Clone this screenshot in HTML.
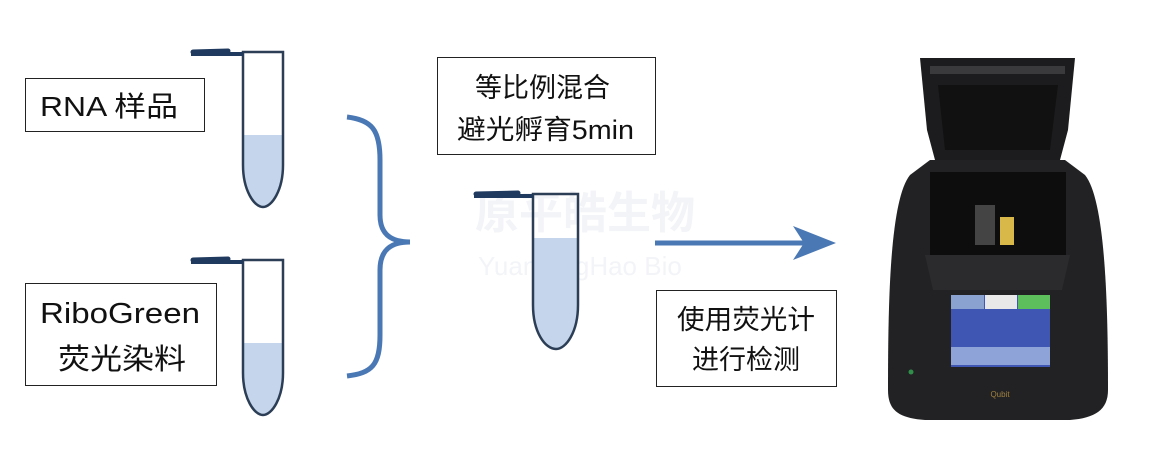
<!DOCTYPE html>
<html><head><meta charset="utf-8"><style>
body{margin:0;background:#fff;}
svg{display:block}
text{font-family:"Liberation Sans","Noto Sans CJK SC",sans-serif;}
</style></head><body>
<svg width="1155" height="460" viewBox="0 0 1155 460">
<!-- watermark -->
<text x="475" y="228" font-size="44" fill="#f3f4f7" font-weight="bold">原平皓生物</text>
<text x="478" y="275" font-size="26" fill="#f3f4f7">YuanPingHao Bio</text>
<!-- boxes -->
<rect x="25.5" y="78.5" width="179" height="53" fill="#fff" stroke="#222"/>
<text x="40" y="116" font-size="28" fill="#111" textLength="138" lengthAdjust="spacingAndGlyphs">RNA 样品</text>
<rect x="25.5" y="283.5" width="191" height="102" fill="#fff" stroke="#222"/>
<text x="40" y="323" font-size="29" fill="#111" textLength="160" lengthAdjust="spacingAndGlyphs">RiboGreen</text>
<text x="58" y="369" font-size="29" fill="#111" textLength="128" lengthAdjust="spacingAndGlyphs">荧光染料</text>
<rect x="437.5" y="57.5" width="218" height="97" fill="#fff" stroke="#222"/>
<text x="475" y="97" font-size="27" fill="#111" textLength="135" lengthAdjust="spacingAndGlyphs">等比例混合</text>
<text x="457" y="139" font-size="27" fill="#111" textLength="177" lengthAdjust="spacingAndGlyphs">避光孵育5min</text>
<rect x="656.5" y="290.5" width="180" height="96" fill="#fff" stroke="#222"/>
<text x="677" y="329" font-size="27" fill="#111" textLength="138" lengthAdjust="spacingAndGlyphs">使用荧光计</text>
<text x="692" y="369" font-size="27" fill="#111" textLength="108" lengthAdjust="spacingAndGlyphs">进行检测</text>
<!-- tubes -->
<g id="t1">
<path d="M243 135 L283 135 L283 165 C283 190 272 207 263 207 C254 207 243 190 243 165 Z" fill="#c5d6ec"/>
<path d="M243 52 L283 52 L283 165 C283 190 272 207 263 207 C254 207 243 190 243 165 Z" fill="none" stroke="#2c3e55" stroke-width="2.5"/>
<path d="M191 54 L243 54" stroke="#1f3a5e" stroke-width="4"/>
<path d="M193 52 L228 51" stroke="#1f3a5e" stroke-width="5" stroke-linecap="round"/>
</g>
<g transform="translate(0,208)">
<path d="M243 135 L283 135 L283 165 C283 190 272 207 263 207 C254 207 243 190 243 165 Z" fill="#c5d6ec"/>
<path d="M243 52 L283 52 L283 165 C283 190 272 207 263 207 C254 207 243 190 243 165 Z" fill="none" stroke="#2c3e55" stroke-width="2.5"/>
<path d="M191 54 L243 54" stroke="#1f3a5e" stroke-width="4"/>
<path d="M193 52 L228 51" stroke="#1f3a5e" stroke-width="5" stroke-linecap="round"/>
</g>
<g>
<path d="M533 238 L578 238 L578 305 C578 332 566 349 556 349 C545 349 533 332 533 305 Z" fill="#c5d6ec"/>
<path d="M533 194 L578 194 L578 305 C578 332 566 349 556 349 C545 349 533 332 533 305 Z" fill="none" stroke="#2c3e55" stroke-width="2.5"/>
<path d="M474 196 L533 196" stroke="#1f3a5e" stroke-width="4"/>
<path d="M476 194 L518 193" stroke="#1f3a5e" stroke-width="5" stroke-linecap="round"/>
</g>
<!-- brace -->
<path d="M347 117 C372 120 380 130 380 160 L380 215 C380 235 392 242 410 242 C392 242 380 249 380 270 L380 335 C380 365 372 373 347 376" fill="none" stroke="#4a78b5" stroke-width="5"/>
<!-- arrow -->
<path d="M655 243 L812 243" stroke="#4a78b5" stroke-width="5"/>
<path d="M836 243 L793 226 L804 243 L793 260 Z" fill="#4a78b5"/>
<!-- device -->
<path d="M920 58 L1075 58 L1068 130 L1060 160 L935 160 L927 130 Z" fill="#1c1c1e"/>
<rect x="930" y="66" width="135" height="8" fill="#3a3a3c"/>
<path d="M938 85 L1058 85 L1050 150 L945 150 Z" fill="#111"/>
<path d="M930 160 L1065 160 L1085 175 C1105 200 1108 300 1108 390 C1108 410 1095 418 1070 420 L925 420 C898 418 888 410 888 390 C888 300 890 200 910 175 Z" fill="#222224"/>
<rect x="930" y="172" width="136" height="85" fill="#0d0d0e"/>
<rect x="975" y="205" width="20" height="40" fill="#444"/>
<rect x="1000" y="217" width="14" height="28" fill="#d9b84a"/>
<path d="M925 255 L1070 255 L1062 290 L933 290 Z" fill="#2b2b2d"/>
<rect x="951" y="295" width="99" height="72" fill="#3f57b3"/>
<rect x="951" y="295" width="33" height="14" fill="#8aa2d0"/>
<rect x="985" y="295" width="32" height="14" fill="#e8e8e8"/>
<rect x="1018" y="295" width="32" height="14" fill="#5cbf5c"/>
<rect x="951" y="347" width="99" height="18" fill="#8ea4d8"/>
<circle cx="911" cy="372" r="2.5" fill="#2f8f4a"/>
<text x="1000" y="397" font-size="8" fill="#a08040" text-anchor="middle">Qubit</text>
</svg>
</body></html>
